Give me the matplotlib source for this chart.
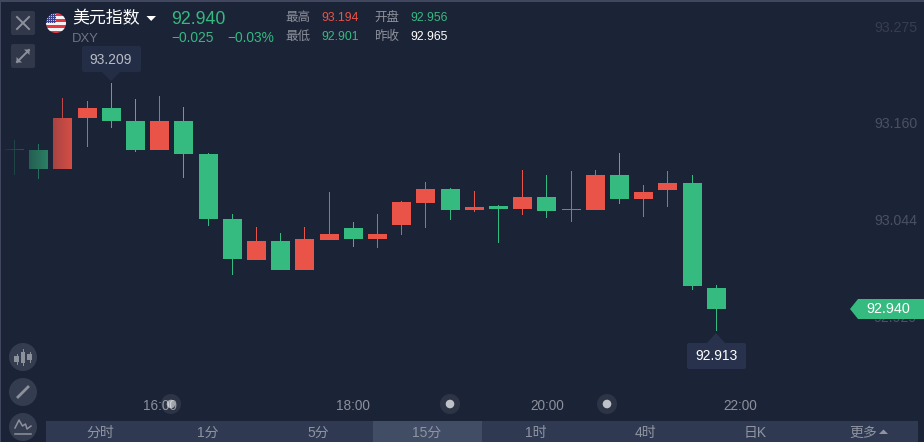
import numpy as np
import matplotlib
matplotlib.use("Agg")
import matplotlib.pyplot as plt
from matplotlib.patches import Rectangle, Polygon, Circle, FancyBboxPatch

plt.rcParams['font.family'] = ['Liberation Sans', 'Noto Sans CJK SC', 'DejaVu Sans']

BG = '#1b2336'
GREEN = '#35ba80'
RED = '#ea5347'

opens  = [93.130, 93.129, 93.107, 93.168, 93.179, 93.164, 93.129, 93.164, 93.125, 93.047,
          92.998, 93.021, 92.986, 93.022, 93.023, 93.023, 93.040, 93.066, 93.083, 93.058,
          93.062, 93.059, 93.073, 93.058, 93.058, 93.099, 93.071, 93.082, 93.090, 92.965]
closes = [93.129, 93.107, 93.168, 93.179, 93.164, 93.129, 93.164, 93.125, 93.047, 92.999,
          93.021, 92.986, 93.023, 93.029, 93.036, 93.029, 93.067, 93.083, 93.058, 93.061,
          93.059, 93.073, 93.056, 93.058, 93.099, 93.071, 93.079, 93.090, 92.967, 92.940]
highs  = [93.141, 93.136, 93.191, 93.188, 93.209, 93.190, 93.194, 93.181, 93.126, 93.053,
          93.037, 93.030, 93.037, 93.079, 93.043, 93.053, 93.068, 93.091, 93.084, 93.080,
          93.064, 93.105, 93.099, 93.104, 93.105, 93.126, 93.088, 93.104, 93.099, 92.968]
lows   = [93.100, 93.095, 93.107, 93.133, 93.156, 93.127, 93.129, 93.096, 93.039, 92.980,
          92.998, 92.986, 92.986, 93.022, 93.014, 93.012, 93.028, 93.036, 93.046, 93.055,
          93.018, 93.052, 93.048, 93.043, 93.058, 93.065, 93.049, 93.061, 92.962, 92.913]
is_up  = [0, 0, 1, 1, 0, 0, 1, 0, 0, 0, 1, 0, 1, 1, 0, 1, 1, 1, 0, 1, 0, 1, 0, 1, 1, 0, 1, 1, 0, 0]

y_ticks = [93.275, 93.160, 93.044, 92.929]
y_labels = ['93.275', '93.160', '93.044', '92.929']
x_ticks = [6, 14, 22, 30]
x_labels = ['16:00', '18:00', '20:00', '22:00']
tabs = ['分时', '1分', '5分', '15分', '1时', '4时', '日K', '更多']

fig = plt.figure(figsize=(9.24, 4.42), dpi=100, facecolor=BG)
ax = fig.add_axes([0, 0, 1, 1], facecolor=BG)
ax.set_xlim(-14.5 / 24.2, (924 - 14.5) / 24.2)
ax.set_ylim(92.7807, 93.3084)
for s in ax.spines.values():
    s.set_visible(False)

for i in range(len(opens)):
    c = RED if is_up[i] else GREEN
    ax.bar(i, highs[i] - lows[i], bottom=lows[i], width=0.0413, color=c, linewidth=0, zorder=2)
    lo, hi = sorted((opens[i], closes[i]))
    ax.bar(i, max(hi - lo, 0.0012), bottom=lo, width=0.785, color=c, linewidth=0, zorder=3)

ax.set_yticks(y_ticks)
ax.set_yticklabels(y_labels, ha='right', va='center', color='#4a5163', fontsize=10.2)
ax.yaxis.tick_right()
ax.tick_params(axis='y', length=0, pad=-5)
ax.get_yticklabels()[0].set_color('#373e50')
ax.set_xticks(x_ticks)
ax.set_xticklabels(x_labels, va='center', color='#8c909c', fontsize=9.8)
ax.tick_params(axis='x', length=0, pad=-26.2)

# Pixel-space overlay for the application chrome
ui = fig.add_axes([0, 0, 1, 1], facecolor='none')
ui.axis('off')

# left fade over the first candles
fade = np.zeros((1, 80, 4))
fade[..., 0:3] = matplotlib.colors.to_rgb(BG)
fade[..., 3] = 0.95 * (1 - np.arange(80) / 80)
ui.imshow(fade, extent=(0, 80, 190, 90), aspect='auto', zorder=1)

# frame
ui.add_patch(Rectangle((0, 0), 1, 442, color='#40475f', lw=0, zorder=2))
ui.add_patch(Rectangle((0, 0), 924, 1.5, color='#40475f', lw=0, zorder=2))


def box(x0, y0, x1, y1, color, r=2, z=3):
    ui.add_patch(FancyBboxPatch((x0 + r, y0 + r), x1 - x0 - 2 * r, y1 - y0 - 2 * r,
                                boxstyle=f'round,pad={r},rounding_size={r}',
                                fc=color, ec='none', zorder=z))


def label(x, y, s, color, size, ha='left', **kw):
    ui.text(x, y, s, color=color, fontsize=size, ha=ha, va='center', zorder=6, **kw)


# top left buttons
box(11, 11, 35, 35, '#30384a')
ui.plot([17, 29], [17, 29], color='#8d919c', lw=1.4, zorder=4)
ui.plot([17, 29], [29, 17], color='#8d919c', lw=1.4, zorder=4)
box(11, 44, 35, 68, '#30384a')
ui.plot([17, 29], [62, 50], color='#8d919c', lw=1.4, zorder=4)
ui.add_patch(Polygon([[29.5, 49.5], [24, 49.5], [29.5, 55]], fc='#8d919c', ec='none', zorder=4))
ui.add_patch(Polygon([[16.5, 62.5], [22, 62.5], [16.5, 57]], fc='#8d919c', ec='none', zorder=4))

# flag
rows = np.zeros((20, 20, 3))
for r in range(20):
    rows[r] = (0.90, 0.22, 0.27) if (r // 3) % 2 == 0 else (0.96, 0.96, 0.96)
rows[:10, :10] = (0.24, 0.26, 0.55)
rows[1:10:2, 1:10:2] = (0.75, 0.77, 0.88)
im = ui.imshow(rows, extent=(46, 66, 33, 13), aspect='auto', zorder=4, interpolation='bilinear')
im.set_clip_path(Circle((56, 23), 10, transform=ui.transData))

# header
label(72, 18.5, '美元指数', 'white', 12.2)
ui.add_patch(Polygon([[146.5, 16], [156, 16], [151.2, 21]], fc='white', ec='none', zorder=5))
label(71.5, 38.5, 'DXY', '#6f7482', 9.4)
label(171, 19, '92.940', GREEN, 12.8)
label(171.5, 37.5, '−0.025', GREEN, 9.9)
label(227, 37.5, '−0.03%', GREEN, 9.9)
label(285, 18, '最高', '#8d919c', 9)
label(321, 18, '93.194', RED, 8.8)
label(374, 18, '开盘', '#8d919c', 9)
label(410, 18, '92.956', GREEN, 8.8)
label(285, 37, '最低', '#8d919c', 9)
label(321, 37, '92.901', GREEN, 8.8)
label(374, 37, '昨收', '#8d919c', 9)
label(410, 37, '92.965', 'white', 8.8)

# high tooltip
box(82, 46, 141, 72, '#232d45')
ui.add_patch(Polygon([[102, 72], [120, 72], [111, 81]], fc='#232d45', ec='none', zorder=3))
label(110.5, 59.5, '93.209', '#b8bcc5', 10, ha='center')

# low tooltip
box(687, 343, 746, 369, '#28324c')
ui.add_patch(Polygon([[707, 343], [725, 343], [716, 333]], fc='#28324c', ec='none', zorder=3))
label(716, 356.5, '92.913', 'white', 10, ha='center')

# price tag
ui.add_patch(Polygon([[850, 309], [858, 299], [924, 299], [924, 319], [858, 319]],
                     fc=GREEN, ec='none', zorder=4))
label(888, 309, '92.940', 'white', 10.4, ha='center')

# scroll dots (translucent, so the 16:00 label shows through the first one)
for cx, cy, a in [(171, 404, 0.55), (450, 404, 0.7), (607, 404, 0.7)]:
    ui.add_patch(Circle((cx, cy), 10, fc='white', ec='none', alpha=0.08, zorder=4))
    ui.add_patch(Circle((cx, cy), 4.3, fc='white', ec='none', alpha=a, zorder=5))

# left tool icons
for cy in [357, 392, 427]:
    ui.add_patch(Circle((23, cy), 14, fc='#343c4f', ec='none', zorder=3))
ic = '#8d919c'
for x, y0, y1, w0, w1 in [(16.5, 354, 364, 356, 362), (23, 349, 365, 352, 363), (29.5, 352, 362, 354, 360)]:
    ui.plot([x, x], [y0, y1], color=ic, lw=0.7, zorder=4)
    ui.add_patch(Rectangle((x - 2.2, w0), 4.4, w1 - w0, fc=ic, ec='none', zorder=4))
ui.plot([18, 28], [397, 387], color=ic, lw=2, zorder=4)
ui.plot([15, 19, 22.5, 25.5, 27, 31], [428, 420, 426, 424, 429, 426], color=ic, lw=1.1, zorder=4)
ui.plot([15, 31], [434, 434], color=ic, lw=1.1, zorder=4)

# bottom tabs
ui.add_patch(Rectangle((46, 421), 872, 21, fc='#2f3a52', ec='none', zorder=3))
ui.add_patch(Rectangle((373, 421), 109, 21, fc='#414c65', ec='none', zorder=4))
for cx, t in zip([100, 208, 318, 427, 536, 645, 755, 863], tabs):
    label(cx, 433, t, '#8f94a1', 10, ha='center')
ui.add_patch(Polygon([[879, 434], [888, 434], [883.5, 429.5]], fc='#8f94a1', ec='none', zorder=5))

ui.set_xlim(0, 924)
ui.set_ylim(442, 0)

fig.savefig('out.png', dpi=100, facecolor=BG)
